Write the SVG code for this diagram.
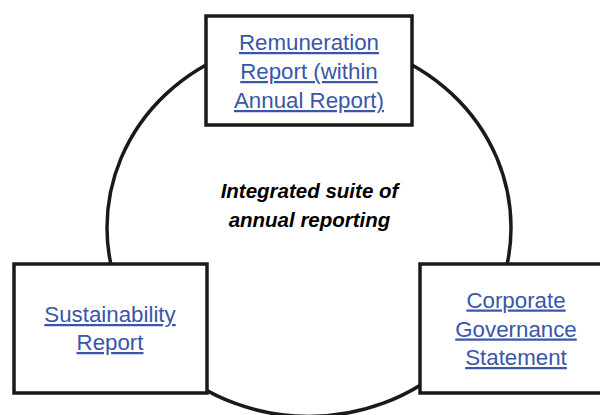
<svg xmlns="http://www.w3.org/2000/svg" width="600" height="415" viewBox="0 0 600 415">
<style>
.box{fill:#fff;stroke:#1a1a1a;stroke-width:3.5}
.ring{fill:none;stroke:#1a1a1a;stroke-width:3.5}
.lbl{font-family:"Liberation Sans",Arial,sans-serif;font-size:22.3px;fill:#3A56A8;text-anchor:middle;text-decoration:underline}
.ctr{font-family:"Liberation Sans",Arial,sans-serif;font-size:20.5px;font-weight:bold;font-style:italic;fill:#000;text-anchor:middle}
</style>
<rect width="600" height="415" fill="#fff"/>
<g id="connectors">
<ellipse class="ring" cx="309" cy="227.5" rx="202" ry="189"/>
</g>
<g id="center">
<text class="ctr" x="309.5" y="198">Integrated suite of</text>
<text class="ctr" x="309.5" y="226.5">annual reporting</text>
</g>
<g id="remuneration">
<rect class="box" x="206" y="16" width="206" height="109"/>
<text class="lbl" x="309" y="50">Remuneration</text>
<text class="lbl" x="309" y="79">Report (within</text>
<text class="lbl" x="309" y="108">Annual Report)</text>
</g>
<g id="sustainability">
<rect class="box" x="14" y="264" width="193" height="129"/>
<text class="lbl" x="110" y="322">Sustainability</text>
<text class="lbl" x="110" y="350">Report</text>
</g>
<g id="governance">
<rect class="box" x="420" y="264" width="195" height="129"/>
<text class="lbl" x="516" y="307.5">Corporate</text>
<text class="lbl" x="516" y="336.5">Governance</text>
<text class="lbl" x="516" y="365">Statement</text>
</g>
</svg>
